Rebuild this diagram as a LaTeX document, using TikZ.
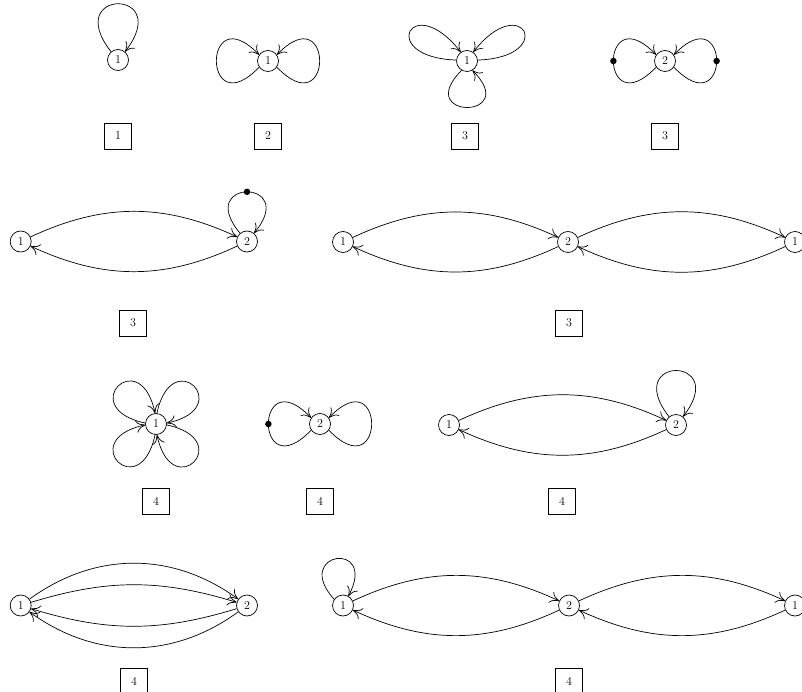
\documentclass[tikz,border=0pt]{standalone}
\usetikzlibrary{arrows.meta}
\begin{document}
\begin{tikzpicture}[x=1pt,y=1pt,
  v/.style={circle,draw,line width=0.7pt,minimum size=21pt,inner sep=0pt,font=\fontsize{12}{14}\selectfont},
  lab/.style={rectangle,draw,line width=0.7pt,minimum width=27pt,minimum height=26pt,inner sep=0pt,font=\fontsize{12}{14}\selectfont},
  arr/.style={line width=0.7pt,-{Computer Modern Rightarrow[length=9pt,width=12pt]}},
  blob/.style={circle,fill=black,inner sep=0pt,minimum size=6.5pt}]
\useasboundingbox (0,0) rectangle (802,-692);
% Graph A
\node[v] (a1) at (118,-60) {1};
\draw[arr] (a1.130) .. controls +(128:81) and +(52:81) .. (a1.50);
\node[lab] (la) at (118,-136) {1};
% Graph B
\node[v] (b1) at (268,-61) {1};
\draw[arr] (b1.215) .. controls +(226:82) and +(134:82) .. (b1.145);
\draw[arr] (b1.-35) .. controls +(-46:82) and +(46:82) .. (b1.35);
\node[lab] (lb) at (268,-136) {2};
% Graph C
\node[v] (c1) at (467,-61) {1};
\draw[arr] (c1.175) .. controls +(178:80) and +(128:80) .. (c1.125);
\draw[arr] (c1.5) .. controls +(2:80) and +(52:80) .. (c1.55);
\draw[arr] (c1.240) .. controls +(225:70) and +(315:70) .. (c1.300);
\node[lab] (lc) at (465,-136) {3};
% Graph D
\node[v] (d1) at (665,-61) {2};
\draw[arr] (d1.215) .. controls +(226:82) and +(134:82) .. node[blob,pos=0.5] (dd1) {} (d1.145);
\draw[arr] (d1.-35) .. controls +(-46:82) and +(46:82) .. node[blob,pos=0.5] (dd2) {} (d1.35);
\node[lab] (ld) at (665,-136) {3};
% Graph E
\node[v] (e1) at (20.7,-241.5) {1};
\node[v] (e2) at (247,-241.5) {2};
\draw[arr] (e1) to[bend left=25] (e2);
\draw[arr] (e2) to[bend left=25] (e1);
\draw[arr] (e2.130) .. controls +(130:72) and +(50:72) .. node[blob,pos=0.5] (de) {} (e2.50);
\node[lab] (le) at (133,-323) {3};
% Graph F
\node[v] (f1) at (343,-242) {1};
\node[v] (f2) at (568,-242) {2};
\node[v] (f3) at (795,-242) {1};
\draw[arr] (f1) to[bend left=25] (f2);
\draw[arr] (f2) to[bend left=25] (f1);
\draw[arr] (f2) to[bend left=25] (f3);
\draw[arr] (f3) to[bend left=25] (f2);
\node[lab] (lf) at (569,-323) {3};
% Graph G
\node[v] (g1) at (156,-424) {1};
\draw[arr] (g1.175) .. controls +(168:72) and +(102:72) .. (g1.95);
\draw[arr] (g1.85) .. controls +(78:72) and +(12:72) .. (g1.5);
\draw[arr] (g1.-5) .. controls +(-12:72) and +(-78:72) .. (g1.-85);
\draw[arr] (g1.-95) .. controls +(-102:72) and +(-168:72) .. (g1.185);
\node[lab] (lg) at (156,-501) {4};
% Graph H
\node[v] (h1) at (320,-424) {2};
\draw[arr] (h1.215) .. controls +(226:82) and +(134:82) .. node[blob,pos=0.5] (dh) {} (h1.145);
\draw[arr] (h1.-35) .. controls +(-46:82) and +(46:82) .. (h1.35);
\node[lab] (lh) at (320,-501) {4};
% Graph I
\node[v] (i1) at (449,-425) {1};
\node[v] (i2) at (676,-425) {2};
\draw[arr] (i1) to[bend left=25] (i2);
\draw[arr] (i2) to[bend left=25] (i1);
\draw[arr] (i2.130) .. controls +(128:78) and +(52:78) .. (i2.50);
\node[lab] (li) at (562,-501) {4};
% Graph J
\node[v] (j1) at (20.7,-605.5) {1};
\node[v] (j2) at (247,-605.5) {2};
\draw[arr] (j1) to[bend left=36] (j2);
\draw[arr] (j1) to[bend left=17] (j2);
\draw[arr] (j2) to[bend left=17] (j1);
\draw[arr] (j2) to[bend left=36] (j1);
\node[lab] (lj) at (134,-681) {4};
% Graph K
\node[v] (k1) at (343,-605.5) {1};
\node[v] (k2) at (569,-605.5) {2};
\node[v] (k3) at (795,-605.5) {1};
\draw[arr] (k1.145) .. controls +(132:64) and +(62:64) .. (k1.60);
\draw[arr] (k1) to[bend left=25] (k2);
\draw[arr] (k2) to[bend left=25] (k1);
\draw[arr] (k2) to[bend left=25] (k3);
\draw[arr] (k3) to[bend left=25] (k2);
\node[lab] (lk) at (569,-681) {4};
\end{tikzpicture}
\end{document}
